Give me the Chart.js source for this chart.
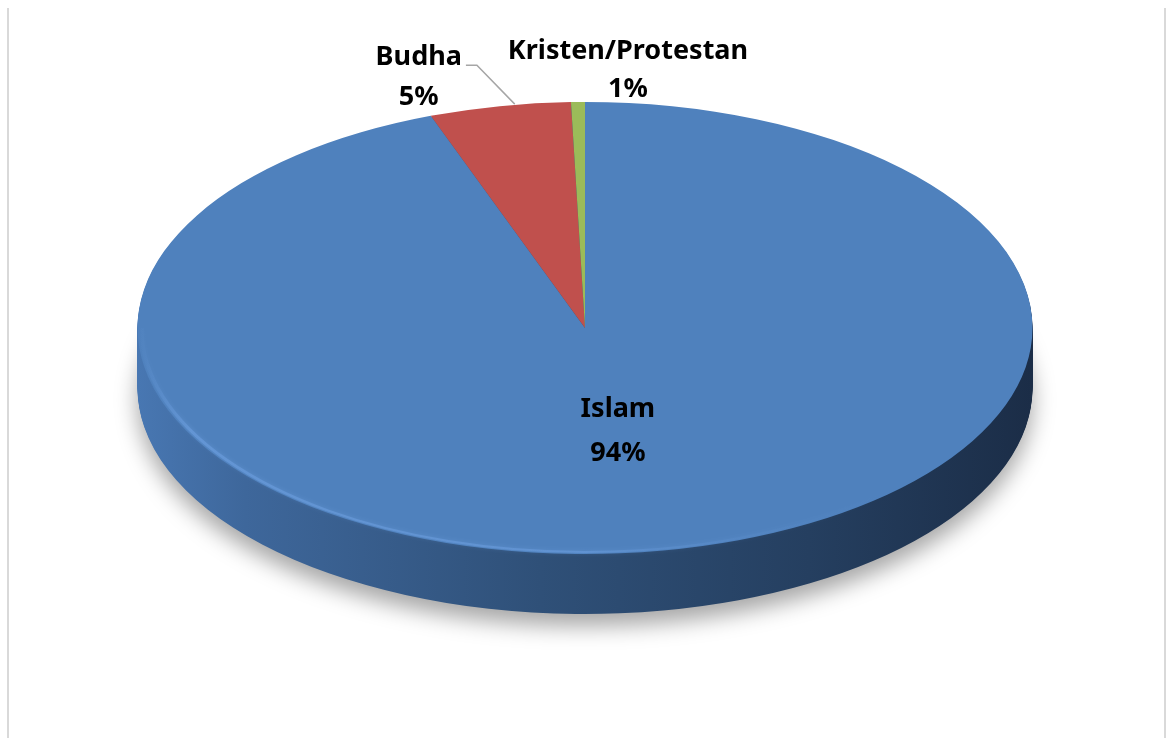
<!DOCTYPE html>
<html>
<head>
<meta charset="utf-8">
<script src="https://cdn.jsdelivr.net/npm/chart.js@4.4.1/dist/chart.umd.min.js"></script>
<style>
  body { margin: 0; background: #fff; }
  #wrap { position: relative; width: 1168px; height: 738px; }
  #frame { position: absolute; left: 7px; right: 2px; top: 8px; bottom: 0;
           border-left: 2px solid #d9d9d9; border-right: 2px solid #d9d9d9; }
</style>
</head>
<body>
<div id="wrap">
  <div id="frame"></div>
  <canvas id="myChart"></canvas>
</div>
<script>
'use strict';

// data
const categories = ['Islam', 'Budha', 'Kristen/Protestan'];
const shares = [94.4, 5.1, 0.5];
const sliceColors = ['#4f81bd', '#c0504d', '#9bbb59'];

// look of the 3d disc
const stretch = 1.98;   // x scale of the disc
const depth = 60;       // thickness of the wall

// where each label goes (inside fraction or offset from the rim)
const labelPlace = [
  { inside: 0.42 },
  { dx: -81, dy: -41, gap: 40, leader: true },
  { dx: 50, dy: -43, gap: 38 }
];

function project(arc, a, f) {
  return {
    x: arc.x + Math.cos(a) * arc.outerRadius * f * stretch,
    y: arc.y + Math.sin(a) * arc.outerRadius * f
  };
}

const pie3d = {
  id: 'pie3d',
  beforeDatasetsDraw(chart) {
    const ctx = chart.ctx;
    const meta = chart.getDatasetMeta(0);
    const a0 = meta.data[0];
    const cx = a0.x, cy = a0.y, r = a0.outerRadius;

    ctx.save();
    ctx.translate(cx, cy);
    ctx.scale(stretch, 1);
    ctx.translate(-cx, -cy);

    const wall = ctx.createLinearGradient(cx - r, 0, cx + r, 0);
    wall.addColorStop(0, '#4877b2');
    wall.addColorStop(0.12, '#3e679b');
    wall.addColorStop(0.45, '#2f5078');
    wall.addColorStop(0.75, '#253f60');
    wall.addColorStop(1, '#1b2d47');

    for (let d = depth; d > 0; d--) {
      ctx.save();
      if (d === depth) {
        ctx.shadowColor = 'rgba(0,0,0,0.35)';
        ctx.shadowBlur = 22;
        ctx.shadowOffsetY = 12;
      }
      ctx.translate(0, d);
      meta.data.forEach(arc => {
        const o = arc.options;
        arc.options = Object.assign({}, o, { backgroundColor: wall, borderWidth: 0 });
        arc.draw(ctx);
        arc.options = o;
      });
      ctx.restore();
    }
  },
  afterDatasetsDraw(chart) {
    const ctx = chart.ctx;
    const meta = chart.getDatasetMeta(0);
    const a0 = meta.data[0];
    const cx = a0.x, cy = a0.y, r = a0.outerRadius;

    // soft light rim on the front edge
    const rim = ctx.createLinearGradient(cx - r, 0, cx + r, 0);
    rim.addColorStop(0, 'rgba(110,160,225,0)');
    rim.addColorStop(0.06, 'rgba(110,160,225,0.55)');
    rim.addColorStop(0.5, 'rgba(110,160,225,0.5)');
    rim.addColorStop(0.85, 'rgba(79,129,189,0)');
    ctx.save();
    ctx.shadowColor = 'rgba(120,170,235,0.6)';
    ctx.shadowBlur = 4;
    ctx.beginPath();
    ctx.arc(cx, cy, r - 2, Math.PI * 0.1, Math.PI);
    ctx.strokeStyle = rim;
    ctx.lineWidth = 2;
    ctx.stroke();
    ctx.restore();
    ctx.restore();

    // labels
    ctx.save();
    ctx.fillStyle = '#000';
    ctx.font = 'bold 27px "Noto Sans", "Open Sans", sans-serif';
    ctx.textAlign = 'center';
    ctx.textBaseline = 'alphabetic';
    meta.data.forEach((arc, i) => {
      const mid = (arc.startAngle + arc.endAngle) / 2;
      const place = labelPlace[i];
      const pct = Math.round(shares[i]) + '%';
      if (place.inside) {
        const p = project(arc, mid, place.inside);
        ctx.fillText(categories[i], p.x, p.y - 4);
        ctx.fillText(pct, p.x, p.y + 40);
      } else {
        const p = project(arc, mid, 1);
        const lx = p.x + place.dx, ly = p.y + place.dy;
        ctx.fillText(categories[i], lx, ly);
        ctx.fillText(pct, lx, ly + place.gap);
        if (place.leader) {
          const w = ctx.measureText(categories[i]).width;
          ctx.beginPath();
          ctx.moveTo(lx + w / 2 + 4, ly);
          ctx.lineTo(lx + w / 2 + 15, ly);
          ctx.lineTo(p.x + 15, p.y - 2);
          ctx.strokeStyle = '#a6a6a6';
          ctx.lineWidth = 1.5;
          ctx.stroke();
        }
      }
    });
    ctx.restore();
  }
};

const ctx = document.getElementById('myChart').getContext('2d');
window.chart = new Chart(ctx, {
  type: 'pie',
  data: {
    labels: categories,
    datasets: [{
      data: shares,
      backgroundColor: sliceColors,
      borderWidth: 0,
      clip: false
    }]
  },
  options: {
    responsive: true,
    maintainAspectRatio: false,
    animation: false,
    layout: { padding: { top: 102, bottom: 184, left: 100, right: 98 } },
    plugins: {
      legend: { display: false },
      tooltip: { enabled: false }
    }
  },
  plugins: [pie3d]
});
</script>
</body>
</html>
